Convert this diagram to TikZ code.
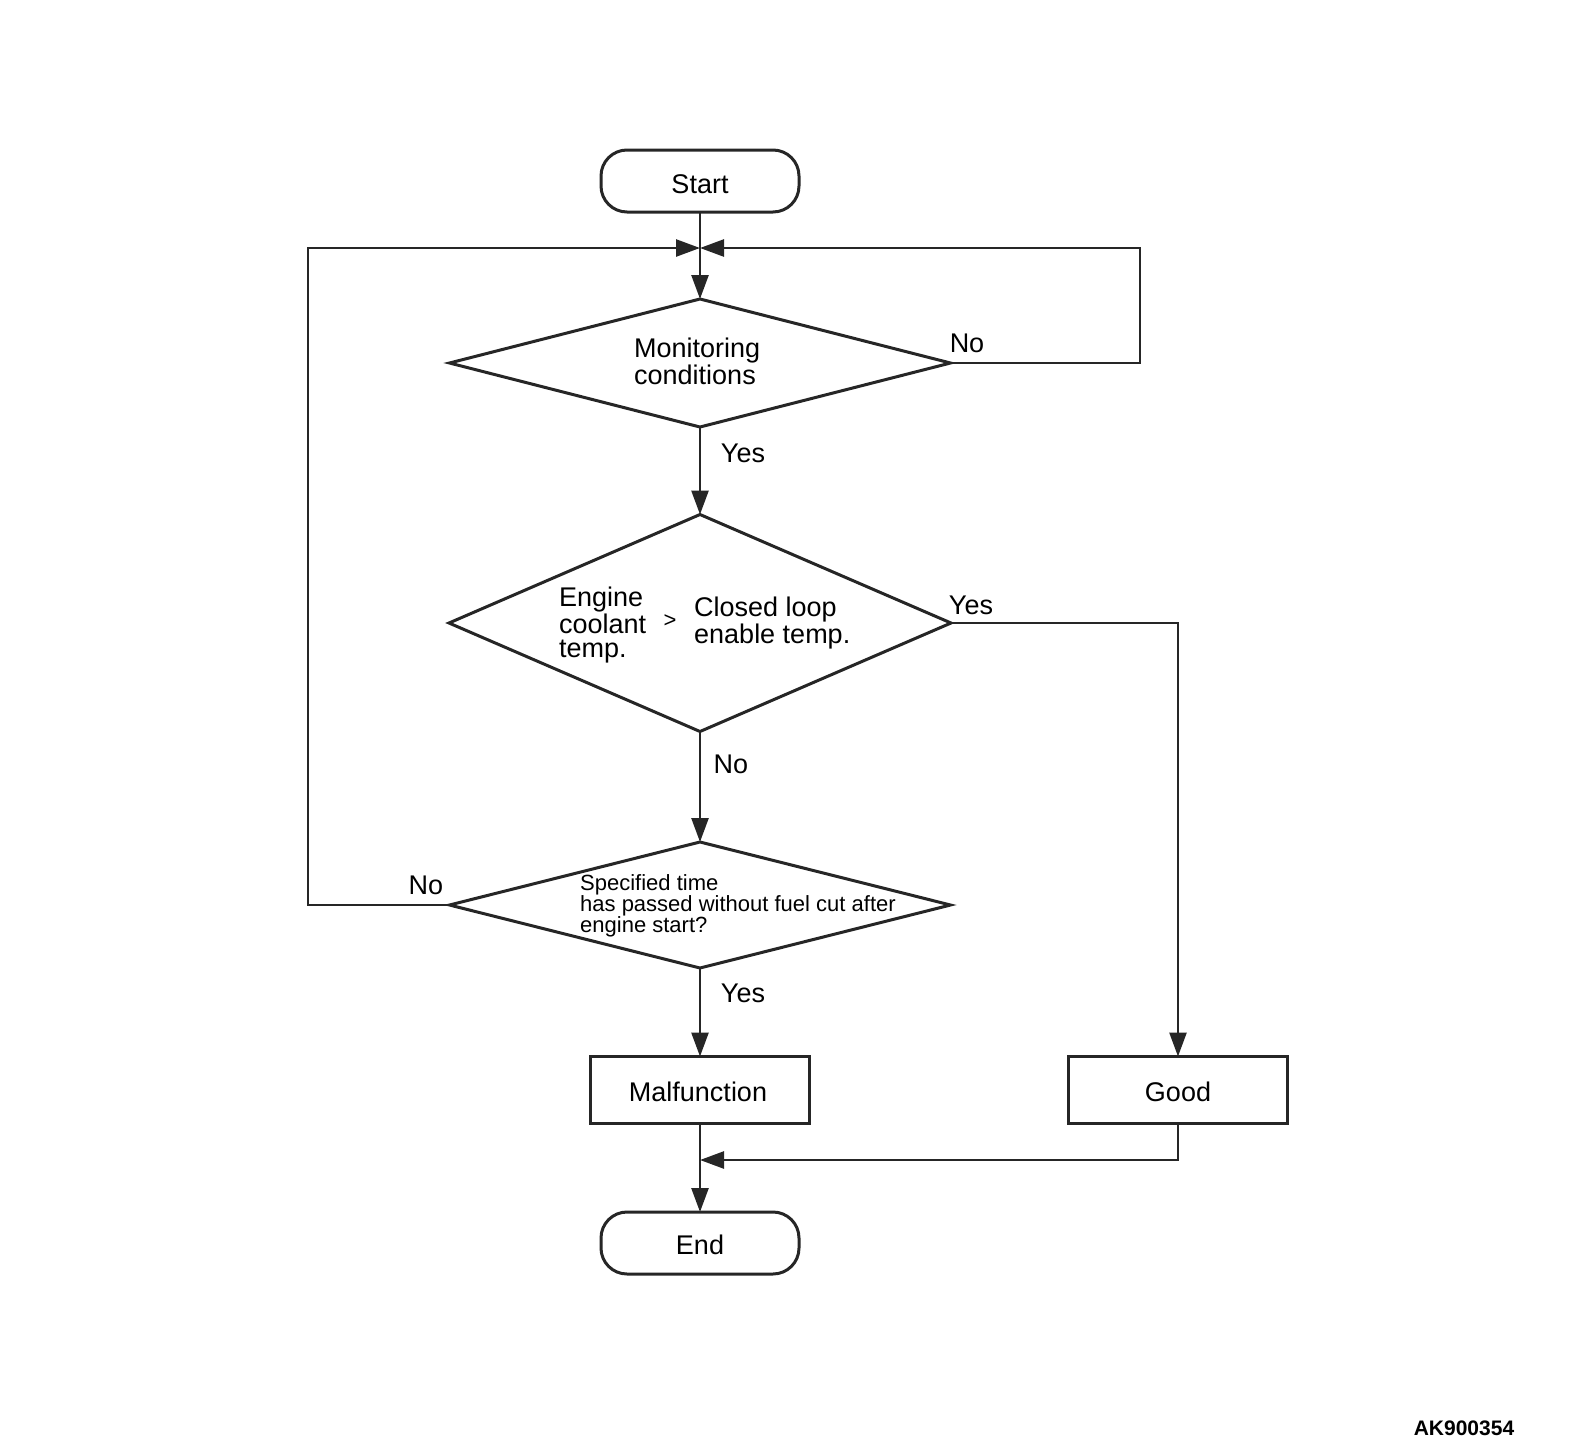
\documentclass[tikz,border=0pt]{standalone}
\usepackage{fontspec}
\setmainfont{Liberation Sans}
\usetikzlibrary{arrows.meta,shapes.geometric}
\begin{document}
\begin{tikzpicture}[x=1pt,y=-1pt,
  shapeline/.style={draw=black!85, line width=3pt},
  term/.style={shapeline, rectangle, rounded corners=26pt, minimum width=198pt, minimum height=62pt, inner sep=0pt, outer sep=0pt},
  procbox/.style={shapeline, rectangle, minimum width=219pt, minimum height=67pt, inner sep=0pt, outer sep=0pt},
  decision/.style={shapeline, diamond, inner sep=0pt, outer sep=0pt},
  conn/.style={draw=black!85, line width=2.6pt},
  arr/.style={conn, -{Triangle[length=24pt,width=17pt]}},
  lbl/.style={inner sep=0pt, font=\fontsize{27}{27}\selectfont},
  dtext/.style={inner sep=0pt, align=left}
]
\useasboundingbox (0,0) rectangle (1575,1449);

\node[term] (start) at (700,181) {};
\node[lbl] (tstart) at (700,184) {Start};
\coordinate (J) at (700,248);
\node[decision, minimum width=501pt, minimum height=128pt] (d1) at (700,363) {};
\node[dtext, font=\fontsize{27}{27}\selectfont, anchor=west] (t1) at (634,361) {Monitoring\\conditions};

\node[decision, minimum width=502pt, minimum height=217pt] (d2) at (700,623) {};
\node[dtext, font=\fontsize{27}{24}\selectfont, anchor=west] (t2a) at (559,625) {Engine\\coolant\\temp.};
\node[dtext, font=\fontsize{22}{22}\selectfont] (t2b) at (670,621) {>};
\node[dtext, font=\fontsize{27}{24}\selectfont, anchor=west] (t2c) at (694,623) {Closed loop\\enable temp.};

\node[decision, minimum width=501pt, minimum height=126pt] (d3) at (700,905) {};
\node[dtext, font=\fontsize{22}{21}\selectfont, anchor=west] (t3) at (580,906) {Specified time\\has passed without fuel cut after\\engine start?};

\node[procbox] (mal) at (700,1090) {};
\node[lbl] (tmal) at (698,1092) {Malfunction};
\node[procbox] (good) at (1178,1090) {};
\node[lbl] (tgood) at (1178,1092) {Good};
\coordinate (M) at (700,1160);
\node[term] (end) at (700,1243) {};
\node[lbl] (tend) at (700,1245) {End};

\coordinate (r1) at (1140,363);
\coordinate (r2) at (1140,248);
\coordinate (l1) at (308,905);
\coordinate (l2) at (308,248);
\coordinate (g1) at (1178,623);
\coordinate (g2) at (1178,1160);

\draw[conn] (start.south) -- (J);
\draw[arr] (J) -- (d1.north);
\draw[arr] (d1.east) -- (r1) -- (r2) -- (J);
\draw[arr] (d3.west) -- (l1) -- (l2) -- (J);
\draw[arr] (d1.south) -- (d2.north);
\draw[arr] (d2.south) -- (d3.north);
\draw[arr] (d2.east) -- (g1) -- (good.north);
\draw[arr] (d3.south) -- (mal.north);
\draw[conn] (mal.south) -- (M);
\draw[arr] (M) -- (end.north);
\draw[arr] (good.south) -- (g2) -- (M);

\node[lbl] (n1) at (967,343) {No};
\node[lbl] (y1) at (743,453) {Yes};
\node[lbl] (y2) at (971,605) {Yes};
\node[lbl] (n2) at (731,764) {No};
\node[lbl] (n3) at (426,885) {No};
\node[lbl] (y3) at (743,993) {Yes};

\node[inner sep=0pt, font=\fontsize{21}{21}\selectfont\bfseries] (code) at (1464,1428) {AK900354};
\end{tikzpicture}
\end{document}
